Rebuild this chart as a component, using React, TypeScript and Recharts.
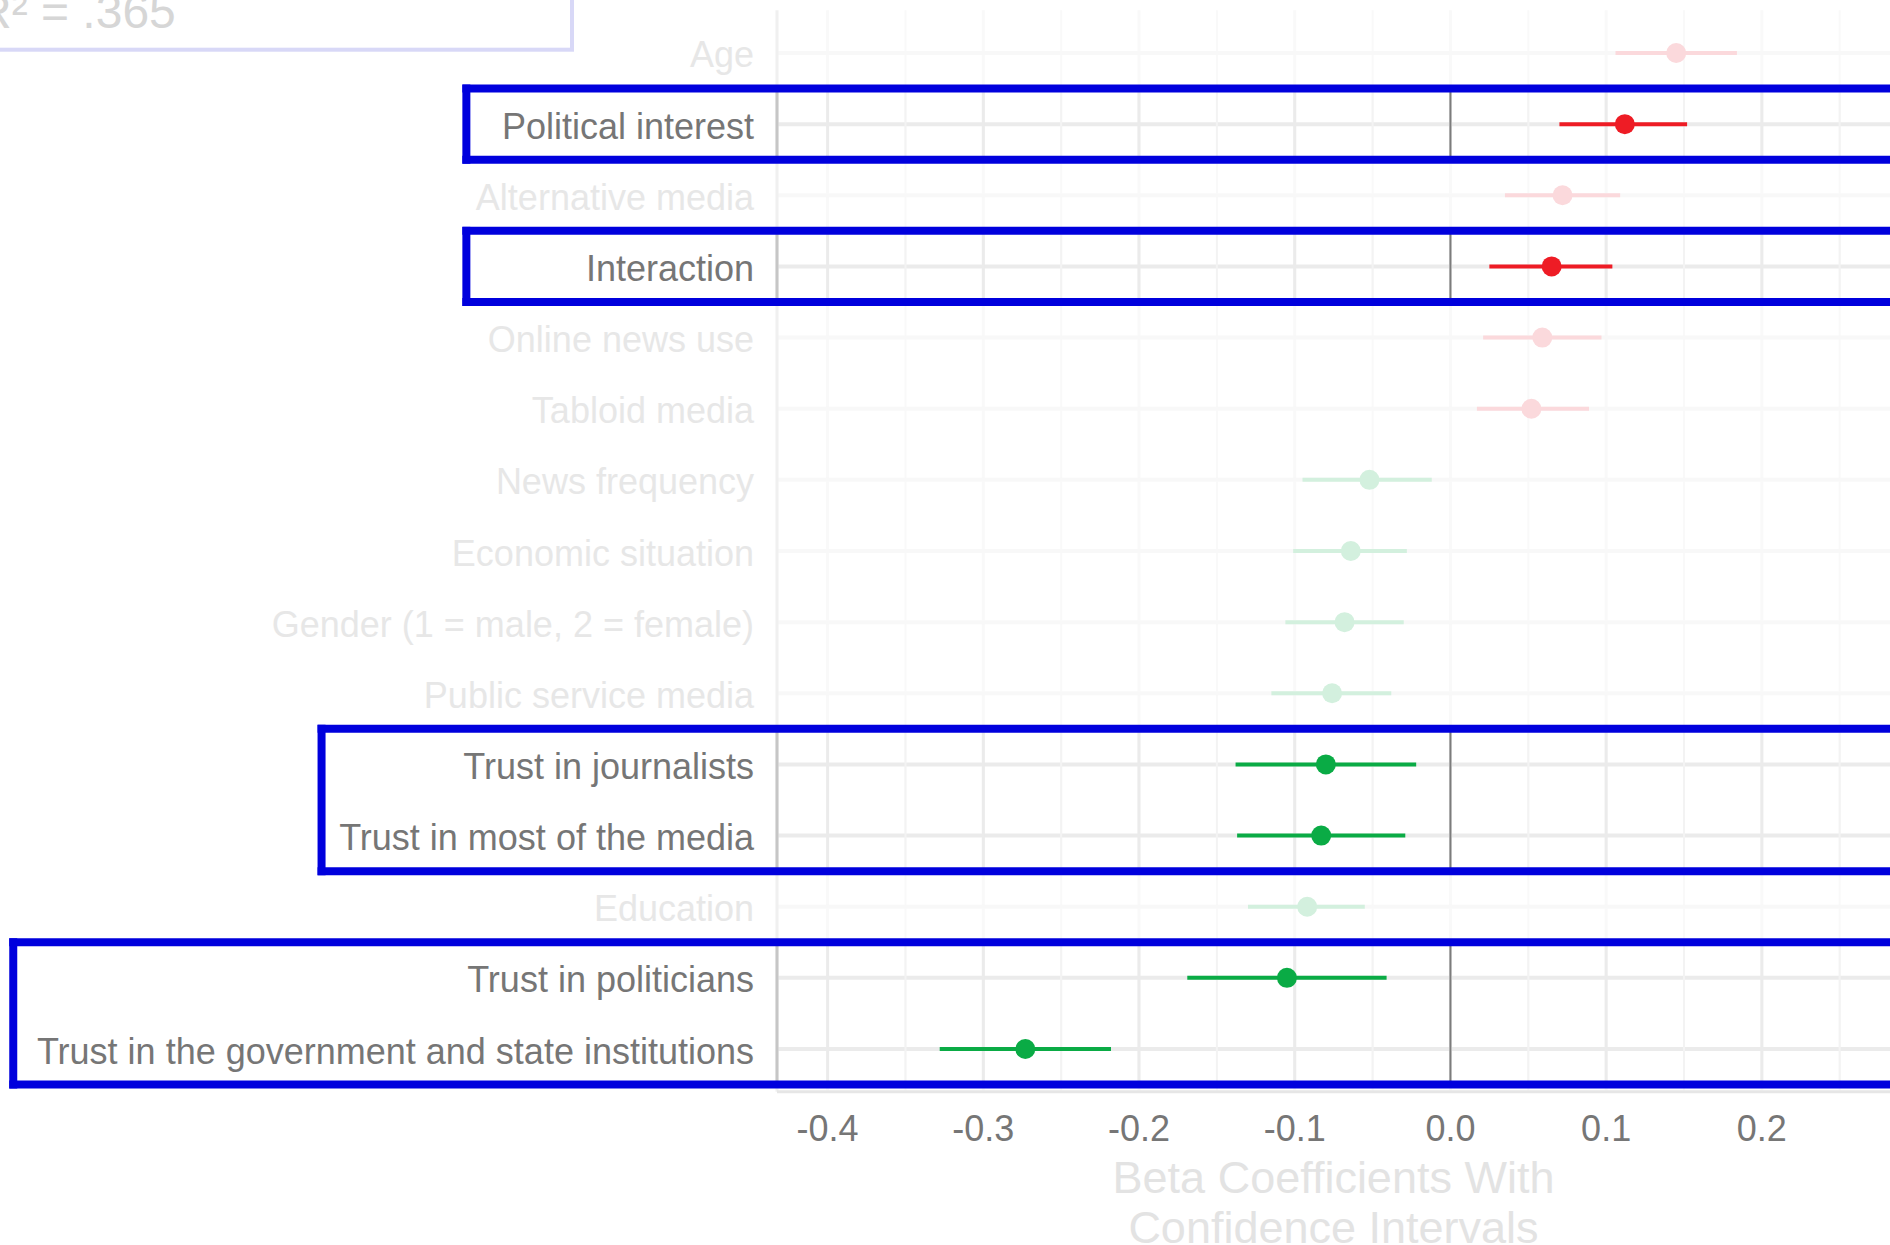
import React from "react";
import { ScatterChart, Scatter, XAxis, YAxis, ErrorBar, ReferenceLine } from "recharts";

// predictors, top to bottom
const predictors = [
  "Age",
  "Political interest",
  "Alternative media",
  "Interaction",
  "Online news use",
  "Tabloid media",
  "News frequency",
  "Economic situation",
  "Gender (1 = male, 2 = female)",
  "Public service media",
  "Trust in journalists",
  "Trust in most of the media",
  "Education",
  "Trust in politicians",
  "Trust in the government and state institutions",
];
const betas = [0.145, 0.112, 0.072, 0.065, 0.059, 0.052, -0.052, -0.064, -0.068, -0.076, -0.08, -0.083, -0.092, -0.105, -0.273];
const ciLower = [0.106, 0.07, 0.035, 0.025, 0.021, 0.017, -0.095, -0.101, -0.106, -0.115, -0.138, -0.137, -0.13, -0.169, -0.328];
const ciUpper = [0.184, 0.152, 0.109, 0.104, 0.097, 0.089, -0.012, -0.028, -0.03, -0.038, -0.022, -0.029, -0.055, -0.041, -0.218];
const highlighted = [false, true, false, true, false, false, false, false, false, false, true, true, false, true, true];

const xTicks = [-0.4, -0.3, -0.2, -0.1, 0, 0.1, 0.2];
const xTickLabels = ["-0.4", "-0.3", "-0.2", "-0.1", "0.0", "0.1", "0.2"];
const minorTicks = [-0.35, -0.25, -0.15, -0.05, 0.05, 0.15, 0.25];
const rSquared = "R² = .365";

// highlight frames: first/last row and how far left the frame reaches (x units)
const frames = [
  { first: 1, last: 1, left: -0.632 },
  { first: 3, last: 3, left: -0.632 },
  { first: 10, last: 11, left: -0.725 },
  { first: 13, last: 14, left: -0.923 },
];

const X_DOMAIN: [number, number] = [-0.4325, 0.2823];
const FRAME_RIGHT = 0.35;
const FONT = "'Liberation Sans', Arial, sans-serif";
const RED = "#EE1C25";
const RED_FADED = "#FBD9DC";
const GREEN = "#0AAB45";
const GREEN_FADED = "#D3F0DE";
const TEXT = "#767676";
const TEXT_FADED = "#E7E7E7";
const BLUE = "#0000DD";

const rows = predictors.map((name, i) => ({
  name,
  x: betas[i],
  y: i + 1,
  err: [betas[i] - ciLower[i], ciUpper[i] - betas[i]],
  on: highlighted[i],
}));

const series = [
  { key: "posFaded", color: RED_FADED, data: rows.filter((r) => r.x > 0 && !r.on) },
  { key: "negFaded", color: GREEN_FADED, data: rows.filter((r) => r.x < 0 && !r.on) },
  { key: "pos", color: RED, data: rows.filter((r) => r.x > 0 && r.on) },
  { key: "neg", color: GREEN, data: rows.filter((r) => r.x < 0 && r.on) },
];

const YTick = (props: any) => {
  const { x, y, payload } = props;
  const i = Math.round(payload.value) - 1;
  return (
    <text x={x} y={y} dy={14.5} textAnchor="end" fontSize={36} fontFamily={FONT} fill={highlighted[i] ? TEXT : TEXT_FADED}>
      {predictors[i]}
    </text>
  );
};

const XTick = (props: any) => {
  const { x, y, payload } = props;
  const i = xTicks.findIndex((t) => Math.abs(t - payload.value) < 1e-9);
  return (
    <text x={x} y={y} dy={49} textAnchor="middle" fontSize={36} fontFamily={FONT} fill={TEXT}>
      {xTickLabels[i]}
    </text>
  );
};

const AxisTitle = (props: any) => {
  const { x, y, width } = props.viewBox;
  const cx = x + width / 2;
  return (
    <text textAnchor="middle" fontSize={45} fontFamily={FONT} fill="#E3E3E3">
      <tspan x={cx} y={y + 101}>Beta Coefficients With</tspan>
      <tspan x={cx} y={y + 151}>Confidence Intervals</tspan>
    </text>
  );
};

const App: React.FC = () => {
  const rowTicks = predictors.map((_, i) => i + 1);
  const gridValues = [...minorTicks, ...xTicks];
  return (
    <div style={{ position: "absolute", left: 0, top: 0, width: 1890, height: 1245, overflow: "hidden", background: "#fff" }}>
      <ScatterChart width={1890} height={1245} margin={{ top: 10.3, right: 0, bottom: 0, left: 0 }}>
        <XAxis
          type="number"
          dataKey="x"
          domain={X_DOMAIN}
          allowDataOverflow
          ticks={xTicks}
          interval={0}
          tickLine={false}
          tickSize={0}
          tickMargin={0}
          axisLine={{ stroke: "#E6E6E6", strokeWidth: 3 }}
          tick={<XTick />}
          height={153.3}
          label={<AxisTitle />}
        />
        <YAxis
          type="number"
          dataKey="y"
          domain={[0.4, 15.6]}
          allowDataOverflow
          reversed
          ticks={rowTicks}
          interval={0}
          tickLine={false}
          axisLine={false}
          tickSize={0}
          tickMargin={23}
          tick={<YTick />}
          width={777}
        />

        {gridValues.map((v) => (
          <ReferenceLine key={`gv${v}`} x={v} stroke="#F9F9F9" strokeWidth={minorTicks.includes(v) ? 2 : 3} />
        ))}
        {rows.map((r) => (
          <ReferenceLine key={`gh${r.y}`} y={r.y} stroke={r.on ? "#EBEBEB" : "#F8F8F8"} strokeWidth={4} />
        ))}
        {frames.map((f) =>
          gridValues.map((v) => (
            <ReferenceLine
              key={`fv${f.first}-${v}`}
              segment={[{ x: v, y: f.first + 0.5 }, { x: v, y: f.last + 1.5 }]}
              stroke={minorTicks.includes(v) ? "#F3F3F3" : "#EBEBEB"}
              strokeWidth={minorTicks.includes(v) ? 2 : 3}
            />
          ))
        )}
        {frames.map((f) => (
          <ReferenceLine
            key={`z${f.first}`}
            segment={[{ x: 0, y: f.first + 0.5 }, { x: 0, y: f.last + 1.5 }]}
            stroke="#7C7C7C"
            strokeWidth={2}
          />
        ))}
        <ReferenceLine x={X_DOMAIN[0]} stroke="#F0F0F0" strokeWidth={3} />
        {frames.map((f) => (
          <ReferenceLine
            key={`ax${f.first}`}
            segment={[{ x: X_DOMAIN[0], y: f.first + 0.5 }, { x: X_DOMAIN[0], y: f.last + 1.5 }]}
            stroke="#C6C6C6"
            strokeWidth={3}
          />
        ))}

        {series.map((s) => (
          <Scatter
            key={s.key}
            data={s.data}
            fill={s.color}
            isAnimationActive={false}
            shape={(p: any) => <circle cx={p.cx} cy={p.cy} r={10} fill={s.color} />}
          >
            <ErrorBar dataKey="err" direction="x" width={0} stroke={s.color} strokeWidth={4} isAnimationActive={false} />
          </Scatter>
        ))}

        {frames.map((f) => {
          const top = f.first + 0.5;
          const bottom = f.last + 1.5;
          const sides = [
            [{ x: f.left, y: top }, { x: FRAME_RIGHT, y: top }],
            [{ x: f.left, y: bottom }, { x: FRAME_RIGHT, y: bottom }],
            [{ x: f.left, y: top }, { x: f.left, y: bottom }],
          ];
          return sides.map((seg, k) => (
            <ReferenceLine
              key={`fr${f.first}-${k}`}
              segment={seg as any}
              ifOverflow="visible"
              stroke={BLUE}
              strokeWidth={8}
              strokeLinecap="square"
              zIndex={700}
            />
          ));
        })}
      </ScatterChart>

      <svg width={1890} height={1245} style={{ position: "absolute", left: 0, top: 0, pointerEvents: "none" }}>
        <rect x={-20} y={-20} width={592} height={69.7} fill="none" stroke="#D8D8F7" strokeWidth={4} />
        <text x={-23} y={28} fontSize={48} fontFamily={FONT} fill="#D6D6D6">
          {rSquared}
        </text>
      </svg>
    </div>
  );
};

export default App;
